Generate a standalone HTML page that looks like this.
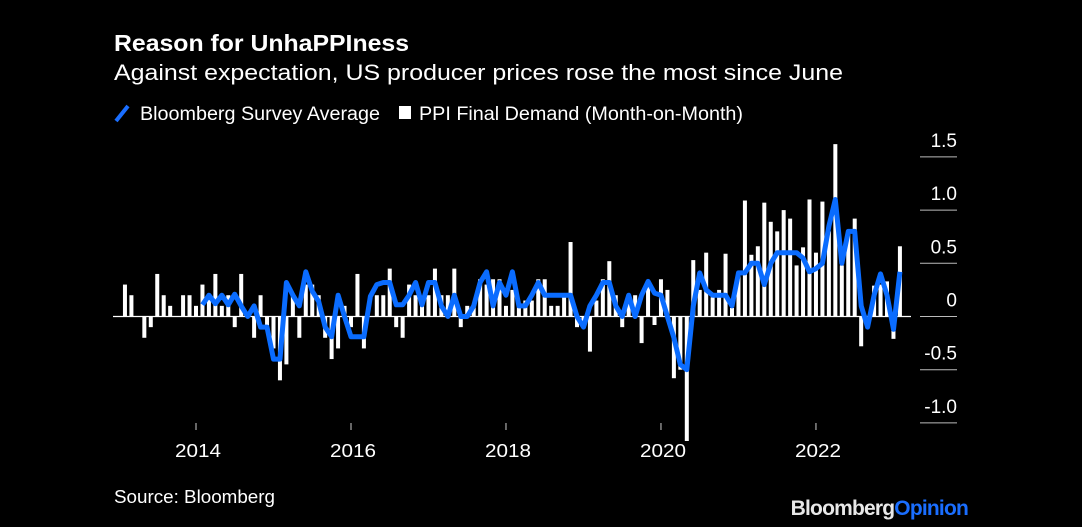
<!DOCTYPE html>
<html><head><meta charset="utf-8"><style>
body{margin:0;background:#000;width:1082px;height:527px;overflow:hidden;font-family:"Liberation Sans",Arial,sans-serif;}
svg{display:block}
</style></head><body>
<svg width="1082" height="527" viewBox="0 0 1082 527">
<rect width="1082" height="527" fill="#000"/>
<text x="114" y="51" fill="#fff" font-size="23" font-weight="bold" textLength="295" lengthAdjust="spacingAndGlyphs">Reason for UnhaPPIness</text>
<text x="114" y="80" fill="#fff" font-size="22" textLength="729" lengthAdjust="spacingAndGlyphs">Against expectation, US producer prices rose the most since June</text>
<g>
<line x1="116" y1="121" x2="128" y2="106" stroke="#1a6eff" stroke-width="4"/>
<text x="140" y="120" fill="#fff" font-size="19" textLength="240" lengthAdjust="spacingAndGlyphs">Bloomberg Survey Average</text>
<rect x="399" y="106" width="12" height="13" fill="#fff"/>
<text x="419" y="120" fill="#fff" font-size="19" textLength="324" lengthAdjust="spacingAndGlyphs">PPI Final Demand (Month-on-Month)</text>
</g>
<g id="yaxis"></g>
<g id="xaxis"></g>
<g id="bars"></g>
<line x1="113" y1="316.5" x2="911" y2="316.5" stroke="#fff" stroke-width="1.2"/>
<path id="survey" fill="none" stroke="#0a6cff" stroke-width="5" stroke-linejoin="round"/>
<text x="114" y="503" fill="#fff" font-size="18" textLength="161" lengthAdjust="spacingAndGlyphs">Source: Bloomberg</text>
<text x="968" y="515" text-anchor="end" font-size="21" font-weight="bold" letter-spacing="-0.8"><tspan fill="#e8e8e8">Bloomberg</tspan><tspan fill="#1a6eff">Opinion</tspan></text>
</svg>
<script>
const ppi=[0.3,0.2,0,-0.2,-0.1,0.4,0.2,0.1,0,0.2,0.2,0.1,0.3,0.2,0.4,0.1,0.2,-0.1,0.4,0,-0.2,0.2,-0.1,-0.3,-0.6,-0.45,0.2,-0.2,0.3,0.3,0.2,-0.2,-0.4,-0.3,0.1,-0.1,0.4,-0.3,0,0.2,0.2,0.45,-0.1,-0.2,0.3,0.2,0.1,0.2,0.45,0.2,0.2,0.45,-0.1,0.1,0.1,0.35,0.3,0.35,0.35,0.1,0.25,0.1,0.15,0.15,0.35,0.35,0.1,0.1,0.2,0.7,-0.1,-0.1,-0.33,0.15,0.35,0.52,0.2,-0.1,0.2,0.2,-0.25,0.33,-0.08,0.35,0.25,-0.58,-0.5,-1.17,0.53,0.25,0.6,0.18,0.25,0.59,0.08,0.4,1.09,0.58,0.66,1.07,0.89,0.8,1.0,0.92,0.48,0.65,1.1,0.6,1.08,0.8,1.62,0.48,0.8,0.92,-0.28,-0.1,0.29,0.3,0.33,-0.21,0.66];
const survey=[0.11,0.2,0.12,0.2,0.11,0.21,0.1,0,0.1,-0.1,-0.1,-0.4,-0.4,0.32,0.2,0.1,0.42,0.24,0.14,-0.1,-0.19,0.2,0,-0.19,-0.19,-0.19,0.19,0.3,0.32,0.32,0.11,0.11,0.2,0.32,0.11,0.32,0.32,0.1,0,0.2,0,0,0.1,0.32,0.42,0.1,0.32,0.2,0.42,0.1,0.1,0.2,0.32,0.2,0.2,0.2,0.2,0.2,0,-0.1,0.1,0.2,0.32,0.32,0.1,0,0.2,0,0.2,0.33,0.22,0.2,0,-0.2,-0.45,-0.5,0.1,0.41,0.25,0.2,0.2,0.2,0.1,0.41,0.41,0.5,0.5,0.3,0.5,0.6,0.6,0.6,0.6,0.55,0.42,0.45,0.5,0.85,1.1,0.5,0.8,0.8,0.1,-0.1,0.2,0.4,0.2,-0.12,0.42];
const surveyStart=12;
const yTicks=[1.5,1.0,0.5,0,-0.5,-1.0];
const yTickLabels=["1.5","1.0","0.5","0","-0.5","-1.0"];
const xYears=[2014,2016,2018,2020,2022];
const NS='http://www.w3.org/2000/svg';
const mw=6.458, x0=118.5;
function x(i){return x0+(i+1)*mw;}
function xYear(yr){return x0+(yr-2013)*12*mw;}
function y(v){return 316.5-v*106.4;}
function mk(tag,attrs,parent){const e=document.createElementNS(NS,tag);for(const k in attrs)e.setAttribute(k,attrs[k]);parent.appendChild(e);return e;}
const ya=document.getElementById('yaxis');
yTicks.forEach((t,k)=>{
  const l=mk('line',{x1:920,x2:957,y1:y(t),y2:y(t),stroke:'#bbb','stroke-width':1},ya);
  
  
  const tx=mk('text',{x:957,y:y(t)-10,fill:'#fff','font-size':19,'text-anchor':'end'},ya);
  tx.textContent=yTickLabels[k];
  
  
});
const xa=document.getElementById('xaxis');
xYears.forEach(yr=>{
  const l=mk('line',{x1:xYear(yr),x2:xYear(yr),y1:423,y2:430,stroke:'#ccc','stroke-width':1},xa);
  
  
  const tx=mk('text',{x:xYear(yr)-21,y:457,fill:'#fff','font-size':18,textLength:46,lengthAdjust:'spacingAndGlyphs'},xa);
  tx.textContent=String(yr);
  
  
});
const bg=document.getElementById('bars');
ppi.forEach((v,i)=>{
  const top=Math.min(y(v),y(0)),h=Math.abs(y(v)-y(0));
  const r=mk('rect',{x:x(i)-2,y:top,width:4,height:Math.max(h,0.5),fill:'#fff'},bg);
  
  
});
let d='';
survey.forEach((v,k)=>{d+=(k?'L':'M')+x(k+surveyStart).toFixed(1)+' '+y(v).toFixed(1);});
document.getElementById('survey').setAttribute('d',d);
</script>
</body></html>
